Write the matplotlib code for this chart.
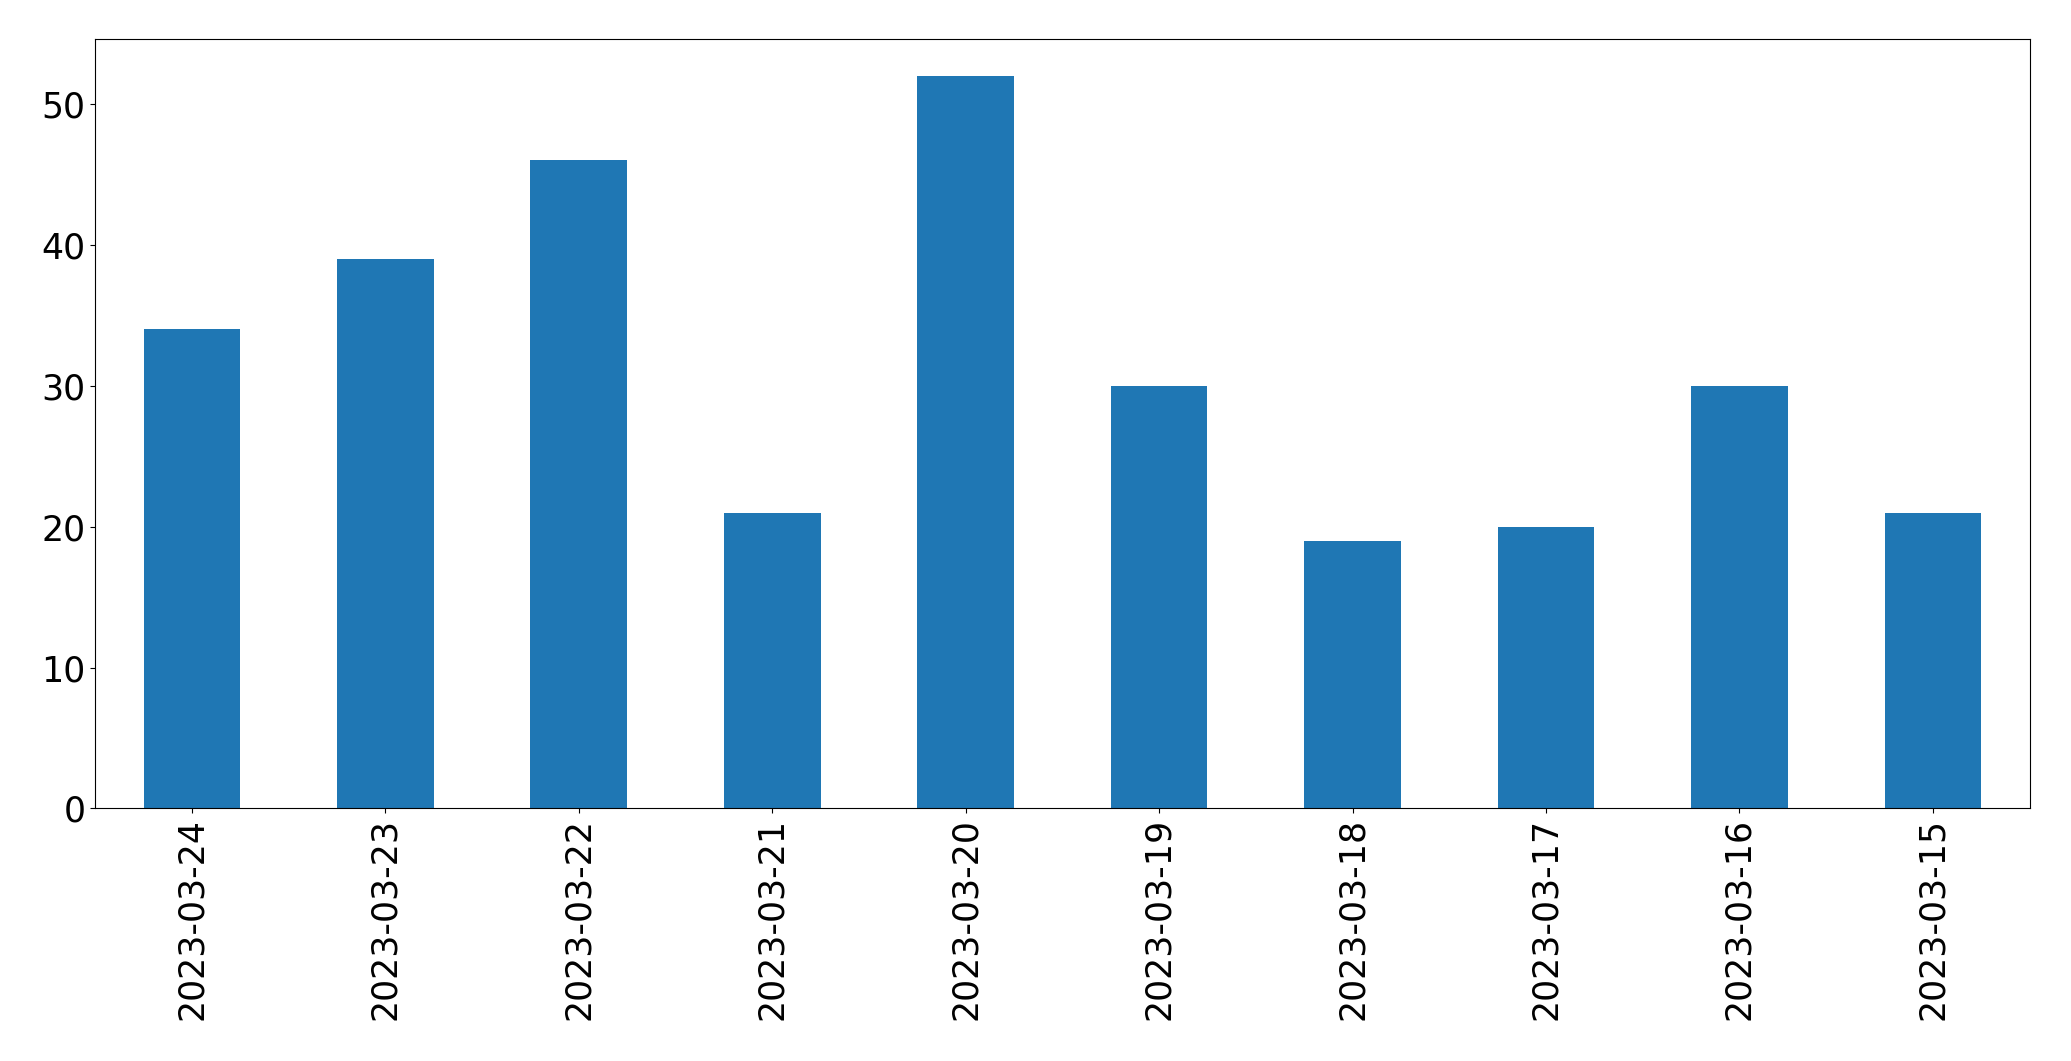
import matplotlib
matplotlib.use("Agg")
import matplotlib.pyplot as plt
import numpy as np

dates = ["2023-03-24", "2023-03-23", "2023-03-22", "2023-03-21", "2023-03-20",
         "2023-03-19", "2023-03-18", "2023-03-17", "2023-03-16", "2023-03-15"]
counts = [34, 39, 46, 21, 52, 30, 19, 20, 30, 21]

fig = plt.figure(figsize=(20.71, 10.61), dpi=100)
ax = fig.add_axes([0.046, 0.238, 0.934, 0.725])
x = np.arange(len(dates))
ax.bar(x, counts, width=0.5, color="#1f77b4")
ax.set_xlim(-0.5, len(dates) - 0.5)
ax.set_ylim(0, 54.6)
ax.set_xticks(x)
ax.set_xticklabels(dates, rotation=90, fontsize=25)
ax.tick_params(axis="y", labelsize=25)
fig.savefig("out.png", dpi=100)
